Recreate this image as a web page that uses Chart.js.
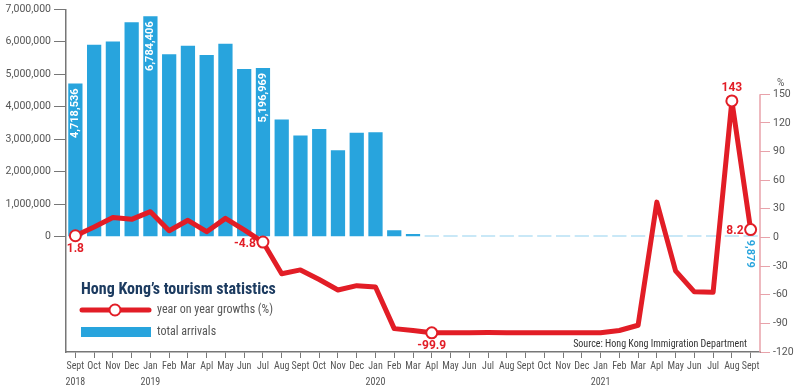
<!DOCTYPE html>
<html><head><meta charset="utf-8">
<script src="https://cdn.jsdelivr.net/npm/chart.js@4.4.1/dist/chart.umd.min.js"></script>
<style>html,body{margin:0;padding:0;background:#fff}canvas{display:block}</style>
</head><body>
<canvas id="c" width="800" height="390"></canvas>
<script>
// ---- data ----
const months = ['Sept','Oct','Nov','Dec','Jan','Feb','Mar','Apl','May','Jun','Jul','Aug','Sept','Oct','Nov','Dec','Jan','Feb','Mar','Apl','May','Jun','Jul','Aug','Sept','Oct','Nov','Dec','Jan','Feb','Mar','Apl','May','Jun','Jul','Aug','Sept'];
const years = ['2018','','','','2019','','','','','','','','','','','','2020','','','','','','','','','','','','2021','','','','','','','',''];
const arrivals = [4718536,5910000,6010000,6600000,6784406,5620000,5880000,5590000,5940000,5160000,5196969,3610000,3120000,3320000,2660000,3200000,3220000,200000,85000,4000,8000,13000,19000,4500,3000,4000,6000,4600,3600,2000,4000,5000,6000,5700,6000,6000,9879];
const growth = [1.8,11,21,19,27,7,18,6,20,8,-4.8,-38,-34,-44,-55,-50.5,-52,-95.5,-97.5,-99.9,-99.9,-99.8,-99.7,-99.9,-99.9,-99.9,-99.9,-99.9,-99.8,-97.5,-92,37,-35,-57,-57.5,143,8.2];
const arrivalTicks = [0,1000000,2000000,3000000,4000000,5000000,6000000,7000000];
const growthTicks = [-120,-90,-60,-30,0,30,60,90,120,150];
const growthLabelIdx = [0,10,19,35,36];
const arrivalLabelIdx = [0,4,10];
const arrivalLastIdx = 36;

// ---- styles ----
const RED = '#e21d26', BLUE = '#28a4dd', NAVY = '#1c3b60', PINK = '#e8a2aa', GREY = '#555';
const NARROW = "'Liberation Sans Narrow','Roboto Condensed','Arial Narrow',Roboto,sans-serif";
const NUM = "Roboto,'Liberation Sans',sans-serif";
const fmt = v => v.toLocaleString('en-US');

const labels = months.map((m,i)=> years[i] ? [m, years[i]] : m);

const placement = {0:'below',10:'left',19:'below',35:'above',36:'left'};

const annot = {
  id:'annot',
  afterDatasetsDraw(chart){
    const c = chart.ctx, ca = chart.chartArea, y1 = chart.scales.y1, yS = chart.scales.y;
    c.save();
    // right axis line
    c.strokeStyle = PINK; c.lineWidth = 1.5;
    c.beginPath(); c.moveTo(y1.left, y1.getPixelForValue(growthTicks[growthTicks.length-1])); c.lineTo(y1.left, ca.bottom); c.stroke();
    // % unit
    c.fillStyle = GREY; c.font = `10px ${NUM}`; c.textAlign='left'; c.textBaseline='middle';
    c.fillText('%', y1.left + 17, y1.getPixelForValue(growthTicks[growthTicks.length-1]) - 11);

    // bar labels
    const bm = chart.getDatasetMeta(1);
    c.font = `bold 11px ${NUM}`; c.fillStyle = '#fff';
    arrivalLabelIdx.forEach(i=>{
      const el = bm.data[i];
      c.save(); c.translate(el.x, el.y + 5); c.rotate(-Math.PI/2);
      c.textAlign='right'; c.textBaseline='middle'; c.fillText(fmt(arrivals[i]),0,0); c.restore();
    });
    {
      const el = bm.data[arrivalLastIdx];
      c.save(); c.translate(el.x - 1, yS.getPixelForValue(0) + 3); c.rotate(Math.PI/2);
      c.fillStyle = BLUE; c.textAlign='left'; c.textBaseline='middle'; c.fillText(fmt(arrivals[arrivalLastIdx]),0,0); c.restore();
    }
    // line labels
    const lm = chart.getDatasetMeta(0);
    c.font = `bold 12px ${NUM}`; c.fillStyle = RED; c.textBaseline='middle';
    growthLabelIdx.forEach(i=>{
      const p = lm.data[i], t = String(growth[i]), pl = placement[i];
      if (pl==='below'){ c.textAlign='center'; c.fillText(t, p.x, p.y + 13); }
      else if (pl==='above'){ c.textAlign='center'; c.fillText(t, p.x, p.y - 13); }
      else { c.textAlign='right'; c.fillText(t, p.x - 7, p.y + 1.5); }
    });

    // legend block
    const lx = ca.left + 15;
    c.textAlign='left'; c.textBaseline='alphabetic';
    c.fillStyle = NAVY; c.font = `bold 16px ${NARROW}`;
    c.fillText('Hong Kong\u2019s tourism statistics', lx, 294);
    c.strokeStyle = RED; c.lineWidth = 5; c.lineCap='round';
    c.beginPath(); c.moveTo(lx + 1, 310); c.lineTo(lx + 68, 310); c.stroke();
    c.beginPath(); c.arc(lx + 34, 310, 5.5, 0, Math.PI*2); c.fillStyle='#fff'; c.fill(); c.lineWidth=2; c.stroke();
    c.fillStyle = BLUE; c.fillRect(lx, 327, 70, 10);
    c.fillStyle = GREY; c.font = `12px ${NARROW}`; c.textBaseline='middle';
    c.fillText('year on year growths (%)', lx + 76, 310);
    c.fillText('total arrivals', lx + 76, 332);
    // source
    c.fillStyle = '#333'; c.font = `10px ${NARROW}`; c.textAlign='right';
    c.fillText('Source: Hong Kong Immigration Department', ca.right - 13, 344);
    c.restore();
  }
};

new Chart(document.getElementById('c'), {
  type:'bar',
  data:{ labels, datasets:[
    { type:'line', label:'year on year growths (%)', data:growth, yAxisID:'y1', borderColor:RED, borderWidth:5,
      pointRadius: ctx => growthLabelIdx.includes(ctx.dataIndex) ? 5.5 : 0,
      pointBackgroundColor:'#fff', pointBorderColor:RED, pointBorderWidth:2, tension:0,
      borderJoinStyle:'round', borderCapStyle:'round', order:0, clip:false },
    { type:'bar', label:'total arrivals', data:arrivals, yAxisID:'y', backgroundColor:BLUE,
      categoryPercentage:1, barPercentage:0.76, minBarLength:1, order:1 }
  ]},
  options:{
    responsive:false, animation:false, events:[],
    layout:{ padding:{ top:7, left:0, right:0, bottom:0 } },
    plugins:{ legend:{display:false}, tooltip:{enabled:false} },
    scales:{
      x:{ offset:true,
        grid:{ offset:false, drawOnChartArea:false, drawTicks:true, tickLength:6, color:'#777' },
        border:{ color:'#777', width:1.5 },
        ticks:{ autoSkip:false, maxRotation:0, minRotation:0, padding:1, color:GREY, font:{ family:NARROW, size:10, lineHeight:1.55 } },
        afterFit(s){ s.height = 38; } },
      y:{ position:'left', min:-3546000, max:7000000,
        afterBuildTicks(s){ s.ticks = arrivalTicks.map(v=>({value:v})); },
        grid:{ drawOnChartArea:false, tickLength:12, color:'#777' },
        border:{ color:'#777', width:1.5 },
        ticks:{ padding:3, color:GREY, font:{ family:NUM, size:10.5 }, callback:v=>fmt(v) },
        afterFit(s){ s.width = 66; } },
      y1:{ position:'right', min:-120, max:239,
        afterBuildTicks(s){ s.ticks = growthTicks.map(v=>({value:v})); },
        grid:{ drawOnChartArea:false, tickLength:10, color:PINK },
        border:{ display:false },
        ticks:{ padding:3, color:GREY, font:{ family:NUM, size:10.5 } },
        afterFit(s){ s.width = 40; } }
    }
  },
  plugins:[annot]
});
</script>
</body></html>
